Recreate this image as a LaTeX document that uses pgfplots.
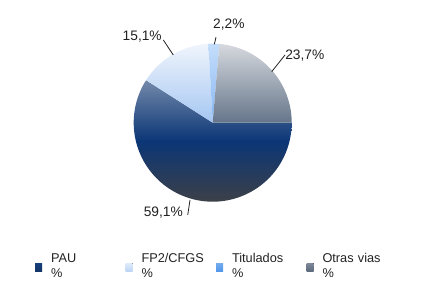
\documentclass[border=0pt]{standalone}
\usepackage{pgfplots}
\pgfplotsset{compat=1.18}
\usepackage{fontspec}
\setmainfont{Liberation Sans}
\definecolor{pauTop}{HTML}{7389AA}
\definecolor{pauMid}{HTML}{0B3676}
\definecolor{pauBot}{HTML}{3C4048}
\definecolor{fpTop}{HTML}{F0F5FC}
\definecolor{fpBot}{HTML}{A4C6F2}
\definecolor{tiTop}{HTML}{C4DDFB}
\definecolor{tiBot}{HTML}{86B6F2}
\definecolor{otTop}{HTML}{D6D9DE}
\definecolor{otBot}{HTML}{65758A}
\definecolor{lgPAU}{HTML}{163F7A}
\definecolor{lgFP}{HTML}{BCD5F4}
\definecolor{lgTi}{HTML}{5096EA}
\definecolor{lgOt}{HTML}{5C6A7E}
\definecolor{txt}{HTML}{222222}
% data (percent)
\def\vPAU{59.1}
\def\vFP{15.1}
\def\vTi{2.2}
\def\vOt{23.7}
\begin{document}
\begin{tikzpicture}
\pgfmathsetmacro\tot{\vPAU+\vFP+\vTi+\vOt}
\pgfmathsetmacro\aPAU{360-360*(\vPAU/\tot)}
\pgfmathsetmacro\aFP{\aPAU-360*(\vFP/\tot)}
\pgfmathsetmacro\aTi{\aFP-360*(\vTi/\tot)}
\begin{axis}[
  scale only axis, width=425bp, height=306bp,
  xmin=-2.692, xmax=2.687, ymin=-2.320, ymax=1.553,
  hide axis, clip=false,
  legend columns=4,
  legend image code/.code={\fill[#1, draw=none] (0bp,-13bp) rectangle (7bp,-5bp);},
  legend style={draw=none, fill=none, inner sep=0pt, outer sep=0pt,
    at={(rel axis cs:0.0824,0.173)}, anchor=north west,
    font=\fontsize{12.8}{15.5}\selectfont, text=txt,
    nodes={inner sep=0pt, text width=60bp, align=left},
    /tikz/every odd column/.append style={column sep=9bp},
    /tikz/every even column/.append style={column sep=14.5bp}},
]
\path (rel axis cs:0,0) rectangle (rel axis cs:1,1);
\addplot[forget plot, draw=none, top color=pauTop, bottom color=pauBot, middle color=pauMid, domain=\aPAU:360, samples=90] ({cos(x)},{sin(x)}) -- (axis cs:0,0) -- cycle;
\addplot[forget plot, draw=none, top color=fpTop, bottom color=fpBot, domain=\aFP:\aPAU, samples=40] ({cos(x)},{sin(x)}) -- (axis cs:0,0) -- cycle;
\addplot[forget plot, draw=none, top color=tiTop, bottom color=tiBot, domain=\aTi:\aFP, samples=10] ({cos(x)},{sin(x)}) -- (axis cs:0,0) -- cycle;
\addplot[forget plot, draw=none, top color=otTop, bottom color=otBot, domain=0:\aTi, samples=50] ({cos(x)},{sin(x)}) -- (axis cs:0,0) -- cycle;
% leader lines
\addplot[forget plot, txt, line width=0.8bp] coordinates {(0.020,0.992) (0.042,1.081)};
\addplot[forget plot, txt, line width=0.8bp] coordinates {(-0.499,0.857) (-0.625,1.047)};
\addplot[forget plot, txt, line width=0.8bp] coordinates {(0.747,0.646) (0.915,0.857)};
\addplot[forget plot, txt, line width=0.8bp] coordinates {(-0.287,-0.978) (-0.316,-1.168)};
% labels
\begin{scope}[every node/.style={text=txt, font=\fontsize{13.8}{16}\selectfont, inner sep=0pt}]
\node at (axis cs:0.205,1.237) {2,2\%};
\node at (axis cs:-0.892,1.085) {15,1\%};
\node at (axis cs:1.165,0.844) {23,7\%};
\node at (axis cs:-0.625,-1.143) {59,1\%};
\end{scope}
\addlegendimage{top color=lgPAU, bottom color=lgPAU!85!black}
\addlegendentry{PAU\\\%}
\addlegendimage{top color=lgFP!50!white, bottom color=lgFP}
\addlegendentry{FP2/CFGS\\\%}
\addlegendimage{top color=lgTi!80!white, bottom color=lgTi}
\addlegendentry{Titulados\\\%}
\addlegendimage{top color=lgOt!80!white, bottom color=lgOt}
\addlegendentry{Otras vias\\\%}
\end{axis}
\end{tikzpicture}
\end{document}
